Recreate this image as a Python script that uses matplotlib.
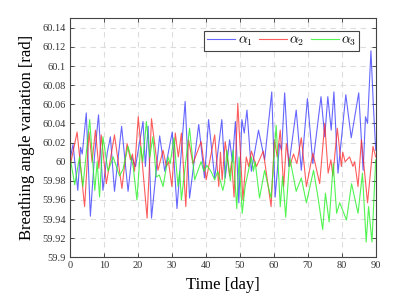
import matplotlib
matplotlib.use("Agg")
import matplotlib.pyplot as plt

plt.rcParams['font.family'] = ['Liberation Serif', 'DejaVu Serif']
plt.rcParams['mathtext.fontset'] = 'cm'

# turning points (time in days, angle in rad)
t_a1 = [0, 0.9, 2.3, 3.1, 3.6, 4.8, 6.0, 7.2, 8.4, 9.7, 11.0, 11.9, 13.1, 15.2, 17.1, 18.2,
        19.3, 21.5, 22.2, 23.0, 24.0, 26.4, 27.9, 30.1, 31.5, 33.9, 35.2, 37.9, 39.6, 40.8,
        42.6, 44.7, 45.7, 47.0, 47.8, 48.7, 49.7, 50.6, 51.3, 52.1, 53.4, 55.5, 57.3, 59.4,
        60.4, 61.7, 62.3, 63.2, 64.4, 66.6, 68.1, 69.9, 71.5, 73.9, 75.0, 75.9, 76.9, 77.7,
        78.9, 81.2, 82.8, 85.0, 86.3, 87.0, 87.6, 88.6, 89.3, 90]
a1 = [60.002, 60.018, 59.970, 60.015, 60.008, 60.051, 59.943, 60.005, 60.049, 59.970, 60.010,
      60.026, 59.969, 60.037, 59.969, 60.005, 59.995, 60.042, 59.995, 60.037, 59.941, 60.027,
      59.990, 60.031, 59.951, 60.063, 59.962, 60.039, 59.983, 60.044, 59.983, 60.044, 59.983,
      60.023, 60.000, 60.042, 59.957, 60.044, 60.030, 60.054, 59.990, 60.033, 60.002, 60.073,
      59.963, 60.019, 60.012, 60.072, 59.995, 60.054, 59.991, 60.066, 59.998, 60.068, 60.026,
      60.068, 60.033, 60.073, 59.988, 60.070, 60.025, 60.072, 59.991, 60.047, 60.040, 60.116,
      60.060, 60.012]

t_a2 = [0, 2.1, 4.3, 5.6, 6.5, 7.5, 8.5, 9.2, 10.7, 13.1, 15.3, 16.8, 17.8, 18.4, 19.0, 20.1,
        22.7, 24.0, 25.9, 27.4, 28.4, 29.0, 30.0, 31.0, 31.9, 32.8, 34.1, 34.9, 36.2, 38.6,
        40.1, 42.6, 43.8, 44.3, 44.8, 45.7, 47.0, 47.6, 48.3, 49.4, 50.9, 51.9, 52.6, 53.4,
        54.9, 56.9, 59.2, 60.2, 61.0, 61.9, 62.9, 63.7, 64.7, 65.8, 66.8, 68.1, 69.6, 71.5,
        73.5, 75.0, 76.0, 76.8, 77.4, 78.7, 79.9, 80.3, 81.0, 82.3, 83.3, 83.8, 84.8, 85.8,
        87.6, 89.2, 90]
a2 = [59.995, 60.031, 59.953, 60.031, 60.000, 60.033, 59.993, 60.028, 59.977, 60.028, 59.972,
      60.019, 60.002, 60.008, 59.990, 60.047, 59.941, 60.045, 59.991, 60.012, 59.995, 60.000,
      59.974, 60.030, 60.005, 60.030, 59.953, 60.023, 59.998, 60.021, 59.981, 60.028, 59.974,
      60.010, 59.981, 60.021, 59.985, 60.000, 59.963, 60.061, 59.960, 60.005, 59.995, 60.011,
      59.995, 60.011, 59.953, 60.023, 60.005, 60.033, 59.974, 60.019, 59.995, 60.008, 59.998,
      60.025, 59.974, 60.009, 59.977, 60.040, 59.988, 60.002, 59.985, 60.035, 59.995, 60.010,
      60.000, 60.005, 59.995, 60.000, 59.974, 60.023, 59.957, 60.016, 60.005]

t_a3 = [0, 1.4, 2.8, 3.8, 5.8, 7.3, 8.0, 8.7, 9.7, 11.2, 12.7, 14.6, 15.6, 17.1, 18.6, 19.7,
        20.8, 21.4, 22.5, 23.5, 24.4, 25.4, 26.3, 27.4, 28.9, 29.5, 30.6, 31.8, 32.3, 32.8,
        35.2, 36.7, 38.6, 39.4, 40.3, 41.5, 42.6, 43.5, 45.0, 45.5, 46.2, 47.2, 48.0, 49.1,
        49.8, 50.7, 51.6, 53.4, 54.0, 54.5, 55.8, 57.3, 58.3, 59.2, 60.7, 61.9, 62.6, 63.5,
        64.7, 66.6, 68.1, 69.6, 71.7, 73.0, 74.4, 75.2, 76.3, 77.5, 78.5, 79.4, 80.2, 81.4,
        82.9, 84.8, 86.1, 87.2, 87.9, 88.9, 90]
a3 = [60.005, 59.976, 60.005, 59.974, 60.044, 59.970, 60.000, 59.963, 60.026, 59.990, 60.005,
      59.985, 59.992, 60.016, 59.995, 59.960, 60.016, 60.000, 60.042, 60.005, 60.026, 59.984,
      59.986, 59.974, 60.005, 59.998, 60.025, 59.974, 59.990, 59.960, 60.035, 59.981, 60.000,
      59.990, 59.996, 59.990, 59.981, 59.990, 59.970, 59.978, 60.012, 59.980, 60.012, 59.951,
      60.005, 59.946, 59.975, 60.005, 59.990, 60.000, 59.962, 59.991, 59.975, 59.962, 60.038,
      59.953, 59.985, 59.942, 60.004, 59.969, 59.983, 59.957, 59.991, 59.963, 59.929, 59.967,
      59.937, 59.998, 59.946, 59.957, 59.950, 59.939, 59.977, 59.946, 59.988, 59.916, 59.953,
      59.916, 60.002]

x_ticks = [0, 10, 20, 30, 40, 50, 60, 70, 80, 90]
y_ticks = [59.9, 59.92, 59.94, 59.96, 59.98, 60, 60.02, 60.04, 60.06, 60.08, 60.1, 60.12, 60.14]
y_labels = ['59.9', '59.92', '59.94', '59.96', '59.98', '60', '60.02', '60.04', '60.06',
            '60.08', '60.1', '60.12', '60.14']

fig = plt.figure(figsize=(3.99, 2.99), dpi=100)
ax = fig.add_axes([0.1754, 0.1395, 0.7662, 0.7993])

ax.plot(t_a1, a1, color=(0.2, 0.2, 1.0), alpha=0.75, lw=0.8, label=r'$\alpha_1$')
ax.plot(t_a2, a2, color=(1.0, 0.15, 0.15), alpha=0.75, lw=0.8, label=r'$\alpha_2$')
ax.plot(t_a3, a3, color=(0.15, 0.95, 0.15), alpha=0.8, lw=0.8, label=r'$\alpha_3$')

ax.set_xlim(0, 90)
ax.set_ylim(59.9, 60.15)
ax.set_xticks(x_ticks)
ax.set_yticks(y_ticks)
ax.set_yticklabels(y_labels)
ax.tick_params(direction='in', length=3, width=0.6, labelsize=7.5, colors='#333333',
               top=True, right=True, pad=3)
for s in ax.spines.values():
    s.set_color('#444444')
    s.set_linewidth(0.8)
ax.grid(True, color='#dddddd', linestyle=(0, (5, 4)), linewidth=0.8)

ax.set_xlabel('Time [day]', fontsize=12, labelpad=5)
ax.set_ylabel('Breathing angle variation [rad]', fontsize=12, labelpad=5)

leg = ax.legend(ncol=3, loc='upper right', bbox_to_anchor=(0.947, 0.947), borderaxespad=0,
                fontsize=10, fancybox=False, framealpha=1, edgecolor='#444444',
                handlelength=2.0, handletextpad=0.2, columnspacing=0.45,
                borderpad=0.2)
leg.get_frame().set_linewidth(0.8)

fig.savefig('out.png', dpi=100)
